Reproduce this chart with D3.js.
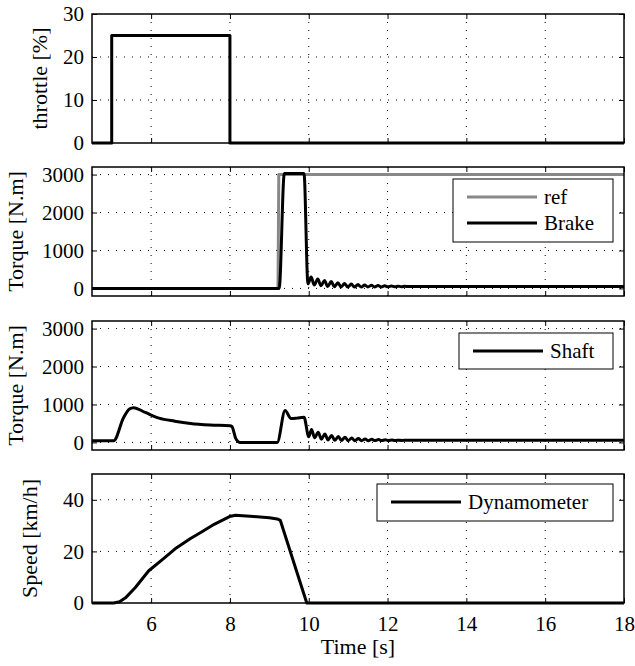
<!DOCTYPE html>
<html>
<head>
<meta charset="utf-8">
<script src="https://cdn.jsdelivr.net/npm/d3@7/dist/d3.min.js"></script>
<style>
  body { margin: 0; background: #fff; }
  svg text { font-family: "Liberation Serif", "Tinos", "Noto Serif", "DejaVu Serif", "Nimbus Roman", "FreeSerif", "Times New Roman", Times, serif; }
</style>
</head>
<body>
<div id="chart"></div>
<script>
// x axis
const timeDomain = [4.5, 18];
const timeTicks = [6, 8, 10, 12, 14, 16, 18];

// throttle [%]
const throttleTime = [4.5, 5.0, 5.0, 8.0, 8.0, 18];
const throttleValue = [0, 0, 25, 25, 0, 0];

// brake torque reference [N.m]
const refTime = [4.5, 9.22, 9.24, 18];
const refValue = [0, 0, 3000, 3000];

// brake torque measured [N.m]
const brakeTime = [4.5, 9.25, 9.38, 9.88, 9.98, 10.06, 10.14, 10.23, 10.31, 10.40, 10.48, 10.57, 10.65, 10.74, 10.82,
  10.91, 10.99, 11.08, 11.16, 11.25, 11.33, 11.42, 11.50, 11.59, 11.67, 11.76, 11.84, 11.93, 12.01, 12.10, 12.18,
  12.27, 12.35, 12.44, 12.52, 12.70, 18];
const brakeValue = [0, 0, 3030, 3030, 120, 300, 90, 250, 70, 210, 50, 180, 45, 150, 35,
  130, 35, 115, 35, 100, 35, 90, 38, 82, 38, 74, 40, 68, 42, 63, 45,
  60, 46, 57, 48, 52, 50];

// shaft torque [N.m]
const shaftTime = [4.5, 5.05, 5.3, 5.45, 5.55, 5.85, 6.2, 6.6, 7.0, 7.5, 8.0, 8.05, 8.15, 8.25, 9.2, 9.4, 9.55, 9.7,
  9.88, 10.0, 10.07, 10.15, 10.24, 10.32, 10.41, 10.49, 10.58, 10.66, 10.75, 10.83, 10.92, 11.00, 11.09, 11.17,
  11.26, 11.34, 11.43, 11.51, 11.60, 11.68, 11.77, 11.85, 11.94, 12.02, 12.11, 12.19, 12.28, 12.36, 12.5, 18];
const shaftValue = [45, 45, 650, 880, 915, 790, 640, 560, 500, 460, 440, 420, 100, 0, 0, 840, 630, 640,
  660, 150, 340, 120, 270, 85, 220, 65, 185, 55, 155, 50, 135, 45, 115, 45,
  100, 45, 90, 45, 82, 48, 74, 48, 68, 50, 64, 50, 60, 52, 56, 55];

// dynamometer speed [km/h]
const speedTime = [4.5, 5.05, 5.2, 5.35, 5.6, 5.94, 6.3, 6.61, 7.0, 7.29, 7.6, 7.99, 8.14, 8.6, 9.0, 9.2, 9.28, 9.95, 18];
const speedValue = [0, 0, 0.5, 2, 6, 12.5, 17, 21, 25, 27.6, 30.5, 33.5, 34, 33.5, 33, 32.6, 32, 0, 0];

const zip = (t, v) => t.map((d, i) => ({ t: d, v: v[i] }));

const panels = [
  { top: 14, domain: [0, 30], ticks: [0, 10, 20, 30], label: 'throttle [%]', labelX: 47,
    series: [{ data: zip(throttleTime, throttleValue), color: '#000', curve: d3.curveLinear }] },
  { top: 167, domain: [-200, 3200], ticks: [0, 1000, 2000, 3000], label: 'Torque [N.m]', labelX: 23,
    series: [
      { data: zip(refTime, refValue), color: '#888', name: 'ref', curve: d3.curveLinear },
      { data: zip(brakeTime, brakeValue), color: '#000', name: 'Brake', curve: d3.curveMonotoneX }
    ],
    legend: { x: 361, y: 12, w: 160, h: 63 } },
  { top: 321, domain: [-200, 3200], ticks: [0, 1000, 2000, 3000], label: 'Torque [N.m]', labelX: 23,
    series: [{ data: zip(shaftTime, shaftValue), color: '#000', name: 'Shaft', curve: d3.curveMonotoneX }],
    legend: { x: 367, y: 12, w: 154, h: 36 } },
  { top: 474, domain: [0, 50], ticks: [0, 20, 40], label: 'Speed [km/h]', labelX: 37,
    series: [{ data: zip(speedTime, speedValue), color: '#000', name: 'Dynamometer', curve: d3.curveLinear }],
    legend: { x: 285, y: 10, w: 236, h: 37 } }
];

const W = 635, H = 666;
const left = 92, right = 624, ph = 129;
const w = right - left;

const svg = d3.select('#chart').append('svg')
  .attr('width', W).attr('height', H);

const x = d3.scaleLinear().domain(timeDomain).range([0, w]);

panels.forEach((p, pi) => {
  const g = svg.append('g').attr('transform', `translate(${left},${p.top})`);
  const y = d3.scaleLinear().domain(p.domain).range([ph, 0]);
  const last = pi === panels.length - 1;

  // Grid
  g.append('g').selectAll('line')
    .data(timeTicks.filter(d => d < timeDomain[1])).enter().append('line')
    .attr('x1', d => x(d)).attr('x2', d => x(d))
    .attr('y1', 0).attr('y2', ph)
    .attr('stroke', '#000').attr('stroke-width', 1).attr('stroke-dasharray', '1,7');
  g.append('g').selectAll('line')
    .data(p.ticks.filter(d => y(d) > 1 && y(d) < ph - 1)).enter().append('line')
    .attr('x1', 0).attr('x2', w)
    .attr('y1', d => y(d)).attr('y2', d => y(d))
    .attr('stroke', '#000').attr('stroke-width', 1).attr('stroke-dasharray', '1,7');

  // Axes (ticks inside, box on)
  const yl = g.append('g').call(d3.axisLeft(y).tickValues(p.ticks).tickSizeInner(-5).tickSizeOuter(0)
    .tickPadding(8).tickFormat(d3.format('d')));
  const yr = g.append('g').attr('transform', `translate(${w},0)`)
    .call(d3.axisRight(y).tickValues(p.ticks).tickSizeInner(-5).tickSizeOuter(0).tickFormat(''));
  const xt = g.append('g').call(d3.axisTop(x).tickValues(timeTicks).tickSizeInner(-5).tickSizeOuter(0).tickFormat(''));
  const xb = g.append('g').attr('transform', `translate(0,${ph})`)
    .call(d3.axisBottom(x).tickValues(timeTicks).tickSizeInner(-5).tickSizeOuter(0).tickPadding(13)
      .tickFormat(last ? d3.format('d') : ''));
  [yl, yr, xt, xb].forEach(a => {
    a.attr('font-family', null);
    a.select('.domain').remove();
    a.selectAll('line').attr('stroke', '#000').attr('stroke-width', 1);
    a.selectAll('text').attr('fill', '#000').style('font-size', '21px');
  });

  // Lines
  p.series.forEach(s => {
    g.append('path')
      .datum(s.data)
      .attr('fill', 'none')
      .attr('stroke', s.color)
      .attr('stroke-width', 3)
      .attr('stroke-linejoin', 'round')
      .attr('d', d3.line().x(d => x(d.t)).y(d => y(d.v)).curve(s.curve));
  });

  // Frame
  g.append('rect')
    .attr('width', w).attr('height', ph)
    .attr('fill', 'none').attr('stroke', '#000').attr('stroke-width', 1.5);

  // Y label
  g.append('text')
    .attr('transform', `translate(${p.labelX - left},${ph / 2}) rotate(-90)`)
    .attr('text-anchor', 'middle')
    .style('font-size', '22px')
    .text(p.label);

  // Legend
  if (p.legend) {
    const L = p.legend;
    const lg = g.append('g').attr('transform', `translate(${L.x},${L.y})`);
    lg.append('rect').attr('width', L.w).attr('height', L.h)
      .attr('fill', '#fff').attr('stroke', '#000').attr('stroke-width', 1);
    const named = p.series.filter(s => s.name);
    named.forEach((s, i) => {
      const cy = 18 + i * 26;
      lg.append('line').attr('x1', 14).attr('x2', 84).attr('y1', cy).attr('y2', cy)
        .attr('stroke', s.color).attr('stroke-width', 3);
      lg.append('text').attr('x', 91).attr('y', cy).attr('dy', '0.35em')
        .style('font-size', '21px').text(s.name);
    });
  }
});

svg.append('text')
  .attr('x', left + w / 2).attr('y', 654)
  .attr('text-anchor', 'middle')
  .style('font-size', '22px')
  .text('Time [s]');
</script>
</body>
</html>
